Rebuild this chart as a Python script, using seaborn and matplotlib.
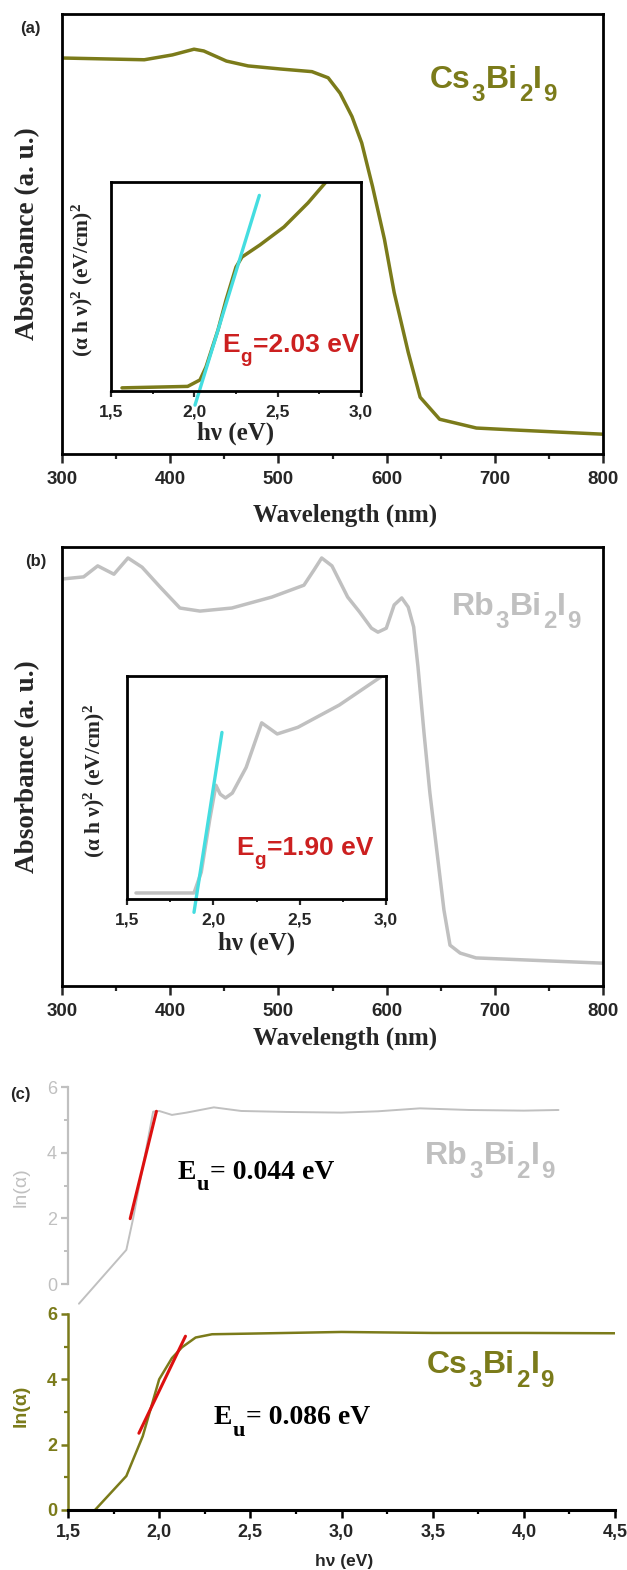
import matplotlib
matplotlib.use("Agg")
import matplotlib.pyplot as plt
import seaborn as sns
from matplotlib.ticker import MultipleLocator, FuncFormatter, NullLocator
from matplotlib.transforms import offset_copy

# ---------------- data ----------------
# (a) Cs3Bi2I9 absorbance spectrum
wl_cs = [300, 376, 402, 422, 431, 452, 472, 502, 531, 546, 557, 568, 577, 587,
         598, 607, 620, 631, 649, 683, 723, 800]
abs_cs = [0.900, 0.896, 0.907, 0.920, 0.916, 0.893, 0.882, 0.875, 0.869, 0.855,
          0.820, 0.767, 0.707, 0.608, 0.488, 0.367, 0.231, 0.129, 0.079, 0.059,
          0.054, 0.045]
# (a) inset: Tauc plot
hv_cs_tauc = [1.566, 1.96, 2.034, 2.07, 2.142, 2.19, 2.25, 2.286, 2.394, 2.538, 2.682, 2.79]
tauc_cs = [0.015, 0.022, 0.053, 0.115, 0.292, 0.435, 0.593, 0.641, 0.699, 0.785, 0.900, 1.0]
eg_cs = 2.03
eg_cs_slope = 2.6
eg_cs_span = [2.004, 2.39]

# (b) Rb3Bi2I9 absorbance spectrum
wl_rb = [300, 320, 333, 348, 361, 374, 390.6, 409, 427.5, 457, 494, 523.6, 533, 540,
         549.5, 564, 575, 586, 592, 599.7, 607, 614, 620, 625, 629, 634.6, 640, 653,
         658.6, 668, 682.6, 800]
abs_rb = [0.927, 0.932, 0.957, 0.938, 0.975, 0.954, 0.909, 0.861, 0.854, 0.861, 0.886,
          0.913, 0.948, 0.975, 0.957, 0.886, 0.852, 0.815, 0.806, 0.815, 0.868, 0.884,
          0.863, 0.818, 0.727, 0.576, 0.440, 0.173, 0.093, 0.075, 0.064, 0.052]
# (b) inset: Tauc plot
hv_rb_tauc = [1.552, 1.888, 1.93, 1.98, 2.015, 2.04, 2.07, 2.11, 2.19, 2.28, 2.37, 2.49, 2.73, 2.97]
tauc_rb = [0.027, 0.027, 0.12, 0.36, 0.51, 0.47, 0.453, 0.475, 0.59, 0.79, 0.74, 0.77, 0.87, 0.996]
eg_rb = 1.90
eg_rb_slope = 4.98
eg_rb_span = [1.888, 2.05]

# (c) Urbach plots, ln(alpha) vs photon energy
hv_rb_u = [1.56, 1.82, 1.857, 1.967, 2.0, 2.07, 2.15, 2.30, 2.45, 2.7, 3.0, 3.2, 3.43, 3.7, 4.0, 4.19]
ln_rb = [-0.6, 1.04, 1.99, 5.25, 5.27, 5.15, 5.22, 5.38, 5.27, 5.24, 5.22, 5.26, 5.35, 5.30, 5.28, 5.30]
eu_rb = 0.044
eu_rb_center = (1.913, 3.625)
eu_rb_yspan = [1.99, 5.26]

hv_cs_u = [1.648, 1.82, 1.91, 2.0, 2.07, 2.125, 2.2, 2.29, 2.5, 3.0, 3.5, 4.0, 4.5]
ln_cs = [0.0, 1.04, 2.26, 4.0, 4.65, 4.98, 5.28, 5.38, 5.40, 5.45, 5.42, 5.42, 5.41]
eu_cs = 0.086
eu_cs_center = (2.0165, 3.835)
eu_cs_yspan = [2.35, 5.32]

CS_FORMULA = [("Cs", False), ("3", True), ("Bi", False), ("2", True), ("I", False), ("9", True)]
RB_FORMULA = [("Rb", False), ("3", True), ("Bi", False), ("2", True), ("I", False), ("9", True)]

# ---------------- style ----------------
OLIVE = "#7b7b1a"
GREY = "#c0c0c0"
CYAN = "#44dde0"
RED_TXT = "#cc2020"
RED_LINE = "#dd1010"
SANS = "Liberation Sans"
SERIF = "Liberation Serif"

sns.set_theme(style="white")
plt.rcParams.update({
    "font.family": [SANS, "DejaVu Sans"],
    "axes.edgecolor": "black",
    "mathtext.fontset": "custom",
    "mathtext.rm": "Liberation Serif:bold",
    "mathtext.bf": "Liberation Serif:bold",
    "mathtext.it": "Liberation Serif:bold",
})

W, H = 627, 1570
fig = plt.figure(figsize=(W / 100, H / 100), dpi=100)
renderer = fig.canvas.get_renderer()


def rect(x0, y0, x1, y1):
    return [x0 / W, 1 - y1 / H, (x1 - x0) / W, (y1 - y0) / H]


comma = FuncFormatter(lambda v, p: f"{v:.1f}".replace(".", ","))


def sub_text(ax, x, y, parts, size, color, family=SANS, sub_scale=0.75, sub_drop=0.42):
    """Write a run of text pieces, with subscripted pieces set smaller and lower."""
    dx = 0.0
    for s, is_sub in parts:
        fs = size * sub_scale if is_sub else size
        dy = -size * sub_drop if is_sub else 0.0
        tr = offset_copy(ax.transData, fig=fig, x=dx, y=dy, units="points")
        t = ax.text(x, y, s, transform=tr, fontsize=fs, fontweight="bold", color=color,
                    fontfamily=family, ha="left", va="baseline")
        bb = t.get_window_extent(renderer)
        dx += bb.width * 72.0 / fig.dpi + size * 0.03


def spectrum_axes(r, wl, ab, color, formula, name_xy, letter, letter_xy, xlab_y):
    ax = fig.add_axes(r)
    sns.lineplot(x=wl, y=ab, ax=ax, color=color, linewidth=2.5, estimator=None, sort=False)
    ax.set_xlim(300, 800)
    ax.set_ylim(0, 1)
    for s in ax.spines.values():
        s.set_linewidth(2.0)
        s.set_color("black")
    ax.xaxis.set_major_locator(MultipleLocator(100))
    ax.xaxis.set_minor_locator(MultipleLocator(50))
    ax.yaxis.set_major_locator(NullLocator())
    ax.tick_params(axis="x", which="major", direction="out", length=6.5, width=1.8,
                   pad=6, labelsize=13.5, bottom=True, top=False)
    ax.tick_params(axis="x", which="minor", direction="out", length=3.5, width=1.6,
                   bottom=True, top=False)
    for t in ax.get_xticklabels():
        t.set_fontweight("bold")
    ax.set_xlabel("Wavelength (nm)", fontfamily=SERIF, fontweight="bold", fontsize=18,
                  va="center")
    ax.xaxis.set_label_coords(0.523, xlab_y)
    ax.set_ylabel("Absorbance (a. u.)", fontfamily=SERIF, fontweight="bold", fontsize=19.5,
                  va="center")
    ax.yaxis.set_label_coords(-0.063, 0.5)
    sub_text(ax, name_xy[0], name_xy[1], formula, 23, color)
    fig.text(letter_xy[0] / W, 1 - letter_xy[1] / H, letter, fontsize=12,
             fontweight="bold", ha="center", va="center")
    return ax


def tauc_inset(r, hv, tauc, color, eg, slope, span, label_xy, ylab_x):
    ax = fig.add_axes(r)
    sns.lineplot(x=hv, y=tauc, ax=ax, color=color, linewidth=2.5, estimator=None, sort=False)
    fit_x = span
    fit_y = [slope * (x - eg) for x in fit_x]
    sns.lineplot(x=fit_x, y=fit_y, ax=ax, color=CYAN, linewidth=2.4, estimator=None, sort=False)
    ax.lines[-1].set_clip_on(False)
    ax.set_xlim(1.5, 3.0)
    ax.set_ylim(0, 1)
    ax.patch.set_alpha(0)
    for s in ax.spines.values():
        s.set_linewidth(2.0)
        s.set_color("black")
    ax.xaxis.set_major_locator(MultipleLocator(0.5))
    ax.xaxis.set_minor_locator(MultipleLocator(0.25))
    ax.xaxis.set_major_formatter(comma)
    ax.yaxis.set_major_locator(NullLocator())
    ax.tick_params(axis="x", which="major", direction="out", length=4.5, width=1.6,
                   pad=5, labelsize=12.5, bottom=True, top=False)
    ax.tick_params(axis="x", which="minor", direction="out", length=2.5, width=1.4,
                   bottom=True, top=False)
    for t in ax.get_xticklabels():
        t.set_fontweight("bold")
    ax.set_xlabel("hν (eV)", fontfamily=SERIF, fontweight="bold", fontsize=18, va="center")
    ax.xaxis.set_label_coords(0.5, -0.2)
    ax.set_ylabel(r"(α h ν)$^{2}$ (eV/cm)$^{2}$", fontfamily=SERIF, fontweight="bold",
                  fontsize=15.5, va="center")
    ax.yaxis.set_label_coords(ylab_x, 0.53)
    sub_text(ax, label_xy[0], label_xy[1],
             [("E", False), ("g", True), (f"={eg:.2f} eV", False)], 19, RED_TXT,
             sub_scale=0.72, sub_drop=0.38)
    return ax


# (a)
spectrum_axes(rect(62, 14, 603, 454), wl_cs, abs_cs, OLIVE, CS_FORMULA, (640, 0.832),
              "(a)", (30, 29), -0.139)
tauc_inset(rect(111, 182, 361, 391), hv_cs_tauc, tauc_cs, OLIVE, eg_cs, eg_cs_slope,
           eg_cs_span, (2.166, 0.187), -0.116)

# (b)
spectrum_axes(rect(62, 547, 603, 986), wl_rb, abs_rb, GREY, RB_FORMULA, (660, 0.845),
              "(b)", (36, 562), -0.12)
tauc_inset(rect(127, 676, 386, 899), hv_rb_tauc, tauc_rb, GREY, eg_rb, eg_rb_slope,
           eg_rb_span, (2.131, 0.197), -0.127)


# (c) stacked Urbach plots
def urbach_fit(eu, center, yspan):
    xc, yc = center
    xs = [xc + (y - yc) * eu for y in yspan]
    return xs, yspan


ax_u = fig.add_axes(rect(68, 1087, 615, 1307))
sns.lineplot(x=hv_rb_u, y=ln_rb, ax=ax_u, color=GREY, linewidth=1.4, estimator=None, sort=False)
fx, fy = urbach_fit(eu_rb, eu_rb_center, eu_rb_yspan)
sns.lineplot(x=fx, y=fy, ax=ax_u, color=RED_LINE, linewidth=2.2, estimator=None, sort=False)
ax_u.set_xlim(1.5, 4.5)
ax_u.set_ylim(-0.7, 6)
ax_u.patch.set_alpha(0)
for side in ("top", "right", "bottom"):
    ax_u.spines[side].set_visible(False)
ax_u.spines["left"].set_bounds(0, 6)
ax_u.spines["left"].set_color(GREY)
ax_u.spines["left"].set_linewidth(1.6)
ax_u.xaxis.set_major_locator(NullLocator())
ax_u.yaxis.set_major_locator(MultipleLocator(2))
ax_u.yaxis.set_minor_locator(MultipleLocator(1))
ax_u.tick_params(axis="y", which="major", direction="out", length=5, width=1.6,
                 color=GREY, labelcolor=GREY, labelsize=13, pad=3, left=True)
ax_u.tick_params(axis="y", which="minor", direction="out", length=3, width=1.4,
                 color=GREY, left=True)
ax_u.set_ylabel("ln(α)", color=GREY, fontsize=14, va="center")
ax_u.yaxis.set_label_coords(-0.086, 0.545)
sub_text(ax_u, 2.099, 3.21, [("E", False), ("u", True), (f"= {eu_rb:.3f} eV", False)],
         20, "black", family=SERIF, sub_scale=0.8, sub_drop=0.42)
sub_text(ax_u, 3.46, 3.64, RB_FORMULA, 23, GREY)
fig.text(20 / W, 1 - 1094 / H, "(c)", fontsize=12, fontweight="bold", ha="center",
         va="center")

ax_l = fig.add_axes(rect(68, 1314, 615, 1510))
sns.lineplot(x=hv_cs_u, y=ln_cs, ax=ax_l, color=OLIVE, linewidth=1.8, estimator=None, sort=False)
fx, fy = urbach_fit(eu_cs, eu_cs_center, eu_cs_yspan)
sns.lineplot(x=fx, y=fy, ax=ax_l, color=RED_LINE, linewidth=2.2, estimator=None, sort=False)
ax_l.set_xlim(1.5, 4.5)
ax_l.set_ylim(0, 6)
ax_l.patch.set_alpha(0)
for side in ("top", "right"):
    ax_l.spines[side].set_visible(False)
ax_l.spines["left"].set_color(OLIVE)
ax_l.spines["left"].set_linewidth(1.8)
ax_l.spines["bottom"].set_color("black")
ax_l.spines["bottom"].set_linewidth(2.2)
ax_l.xaxis.set_major_locator(MultipleLocator(0.5))
ax_l.xaxis.set_minor_locator(MultipleLocator(0.25))
ax_l.xaxis.set_major_formatter(comma)
ax_l.yaxis.set_major_locator(MultipleLocator(2))
ax_l.yaxis.set_minor_locator(MultipleLocator(1))
ax_l.tick_params(axis="x", which="major", direction="out", length=6, width=1.8,
                 labelsize=13, pad=4, bottom=True, color="black")
ax_l.tick_params(axis="x", which="minor", direction="out", length=3, width=1.6,
                 bottom=True, color="black")
ax_l.tick_params(axis="y", which="major", direction="out", length=5, width=1.8,
                 color=OLIVE, labelcolor=OLIVE, labelsize=13, pad=3, left=True)
ax_l.tick_params(axis="y", which="minor", direction="out", length=3, width=1.6,
                 color=OLIVE, left=True)
for t in ax_l.get_xticklabels() + ax_l.get_yticklabels():
    t.set_fontweight("bold")
ax_l.set_xlabel("hν (eV)", fontsize=12.5, fontweight="bold", va="center")
ax_l.xaxis.set_label_coords(0.505, -0.262)
ax_l.set_ylabel("ln(α)", color=OLIVE, fontsize=14, fontweight="bold", va="center")
ax_l.yaxis.set_label_coords(-0.086, 0.53)
sub_text(ax_l, 2.297, 2.63, [("E", False), ("u", True), (f"= {eu_cs:.3f} eV", False)],
         20, "black", family=SERIF, sub_scale=0.8, sub_drop=0.42)
sub_text(ax_l, 3.47, 4.19, CS_FORMULA, 23, OLIVE)

fig.savefig("out.png", dpi=100)
